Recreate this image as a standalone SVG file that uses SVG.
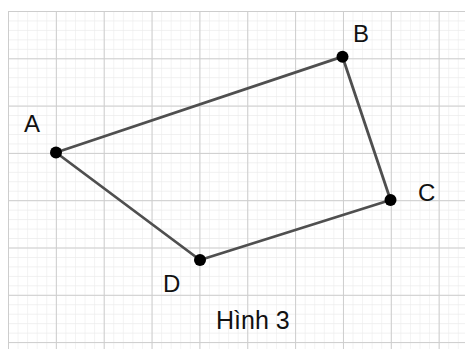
<svg xmlns="http://www.w3.org/2000/svg" width="465" height="349" viewBox="0 0 465 349">
  <defs>
    <pattern id="minor" patternUnits="userSpaceOnUse" x="8" y="11" width="9.57" height="9.46">
      <path d="M0,0 H9.57 M0,0 V9.46" fill="none" stroke="#ececec" stroke-width="1.2"/>
    </pattern>
    <pattern id="major" patternUnits="userSpaceOnUse" x="8" y="11" width="47.85" height="47.3">
      <path d="M0,0 H47.85 M0,0 V47.3" fill="none" stroke="#cdcdcd" stroke-width="2"/>
    </pattern>
  </defs>
  <style>
    .edge { stroke: #4f4f4f; stroke-width: 2.8; fill: none; stroke-linecap: round; }
    .pt { fill: #000; }
    .lbl { font-family: "Liberation Sans", Arial, sans-serif; font-size: 24px; fill: #111; }
  </style>
  <rect width="465" height="349" fill="#fff"/>
  <g id="grid">
    <rect x="8" y="11" width="457" height="338" fill="url(#minor)"/>
    <rect x="8" y="11" width="457" height="338" fill="url(#major)"/>
  </g>
  <g id="connectors">
    <line class="edge" x1="56" y1="152.5" x2="342.5" y2="56.7"/>
    <line class="edge" x1="342.5" y1="56.7" x2="390.5" y2="200"/>
    <line class="edge" x1="390.5" y1="200" x2="200" y2="260"/>
    <line class="edge" x1="200" y1="260" x2="56" y2="152.5"/>
  </g>
  <g id="A"><circle class="pt" cx="56" cy="152.5" r="6"/><text class="lbl" x="24" y="132">A</text></g>
  <g id="B"><circle class="pt" cx="342.5" cy="56.7" r="6"/><text class="lbl" x="353" y="42">B</text></g>
  <g id="C"><circle class="pt" cx="390.5" cy="200" r="6"/><text class="lbl" x="418" y="200.5">C</text></g>
  <g id="D"><circle class="pt" cx="200" cy="260" r="6"/><text class="lbl" x="163" y="292">D</text></g>
  <g id="caption"><text class="lbl" x="216" y="329" style="font-size:25px">Hình 3</text></g>
</svg>
